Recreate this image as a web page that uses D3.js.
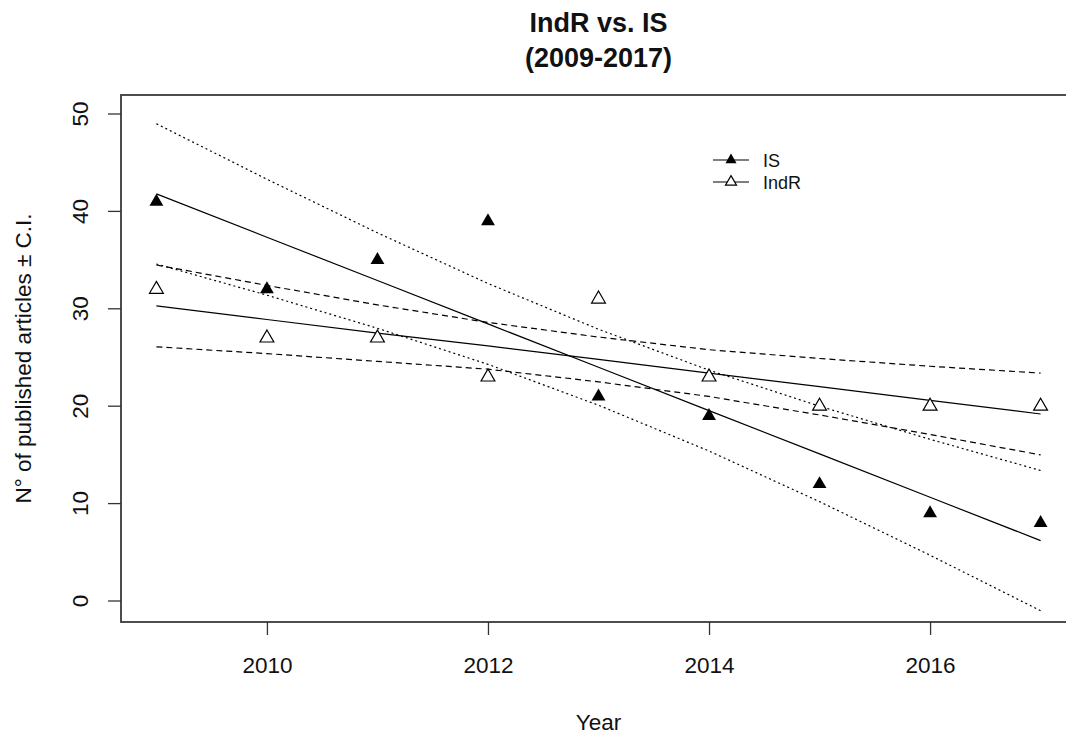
<!DOCTYPE html>
<html>
<head>
<meta charset="utf-8">
<script src="https://cdn.jsdelivr.net/npm/d3@7"></script>
<style>
body { margin: 0; background: #fff; }
text { font-family: "Liberation Sans", Arial, sans-serif; fill: #111; }
</style>
</head>
<body>
<div id="chart"></div>
<script>
// yearly counts
var years = [2009, 2010, 2011, 2012, 2013, 2014, 2015, 2016, 2017];
var isCounts = [41, 32, 35, 39, 21, 19, 12, 9, 8];
var indrCounts = [32, 27, 27, 23, 31, 23, 20, 20, 20];

// fitted lines and C.I. bands, one value per year
var isFit = [41.8, 37.35, 32.9, 28.45, 24.0, 19.55, 15.1, 10.65, 6.2];
var isCiUp = [49.0, 43.3, 37.8, 32.6, 27.9, 23.7, 20.0, 16.6, 13.4];
var isCiLow = [34.6, 31.4, 28.0, 24.3, 20.1, 15.4, 10.2, 4.7, -1.0];
var indrFit = [30.3, 28.9, 27.5, 26.2, 24.8, 23.4, 22.0, 20.6, 19.2];
var indrCiUp = [34.5, 32.4, 30.4, 28.6, 27.1, 25.8, 24.9, 24.1, 23.4];
var indrCiLow = [26.1, 25.4, 24.6, 23.8, 22.5, 21.0, 19.1, 17.1, 15.0];

var xTicks = [2010, 2012, 2014, 2016];
var yTicks = [0, 10, 20, 30, 40, 50];

var width = 1066, height = 738;
var boxL = 121, boxR = 1076, boxT = 95, boxB = 622;

var svg = d3.select('#chart').append('svg').attr('width', width).attr('height', height);

var x = d3.scaleLinear().domain([2009, 2017]).range([156.4, 1040.6]);
var y = d3.scaleLinear().domain([0, 50]).range([601, 114]);

// box
svg.append('rect')
    .attr('x', boxL).attr('y', boxT)
    .attr('width', boxR - boxL).attr('height', boxB - boxT)
    .attr('fill', 'none').attr('stroke', '#3a3a3a').attr('stroke-width', 1.8);

// x axis
var xAxis = svg.append('g').attr('transform', `translate(0,${boxB})`)
    .call(d3.axisBottom(x).tickValues(xTicks).tickSize(13).tickPadding(0).tickFormat(d3.format('d')));
xAxis.select('.domain').remove();
xAxis.selectAll('line').attr('stroke', '#333').attr('stroke-width', 1.3);
xAxis.selectAll('text').attr('y', 51).attr('dy', null)
    .style('font-size', '22.5px').attr('fill', '#111');

// y axis, labels rotated like base R
var yAxis = svg.append('g').attr('transform', `translate(${boxL},0)`)
    .call(d3.axisLeft(y).tickValues(yTicks).tickSize(13));
yAxis.select('.domain').remove();
yAxis.selectAll('line').attr('stroke', '#333').attr('stroke-width', 1.3);
yAxis.selectAll('text')
    .attr('x', null).attr('dy', null)
    .attr('text-anchor', 'middle')
    .attr('transform', d => `translate(-33,${y(d)})rotate(-90)`)
    .attr('y', 0)
    .style('font-size', '22.5px').attr('fill', '#111');
yAxis.selectAll('.tick').attr('transform', null);
yAxis.selectAll('.tick line').attr('transform', d => `translate(0,${y(d)})`);

// titles
svg.append('text').attr('x', 598.5).attr('y', 32).attr('text-anchor', 'middle')
    .style('font-size', '27px').style('font-weight', 'bold').text('IndR vs. IS');
svg.append('text').attr('x', 598.5).attr('y', 67).attr('text-anchor', 'middle')
    .style('font-size', '27px').style('font-weight', 'bold').text('(2009-2017)');
svg.append('text').attr('x', 598.5).attr('y', 730).attr('text-anchor', 'middle')
    .style('font-size', '22.5px').text('Year');
svg.append('text').attr('transform', `translate(31,${(boxT + boxB) / 2})rotate(-90)`)
    .attr('text-anchor', 'middle').style('font-size', '22.5px')
    .text('N° of published articles ± C.I.');

// regression and C.I. lines
var line = d3.line().x(d => x(d[0])).y(d => y(d[1]));
function drawLine(vals, dash) {
    svg.append('path')
        .datum(years.map((yr, i) => [yr, vals[i]]))
        .attr('d', line)
        .attr('fill', 'none').attr('stroke', '#000').attr('stroke-width', 1.2)
        .attr('stroke-dasharray', dash);
}
drawLine(isFit, null);
drawLine(isCiUp, '2,3');
drawLine(isCiLow, '2,3');
drawLine(indrFit, null);
drawLine(indrCiUp, '6,4');
drawLine(indrCiLow, '6,4');

// points
var tri = d3.symbol().type(d3.symbolTriangle).size(83);
svg.append('g').selectAll('path').data(years).enter().append('path')
    .attr('d', tri)
    .attr('transform', (d, i) => `translate(${x(d)},${y(isCounts[i])})`)
    .attr('fill', '#000');
svg.append('g').selectAll('path').data(years).enter().append('path')
    .attr('d', tri)
    .attr('transform', (d, i) => `translate(${x(d)},${y(indrCounts[i])})`)
    .attr('fill', '#fff').attr('stroke', '#000').attr('stroke-width', 1.2);

// legend
var legend = svg.append('g');
var legItems = [['IS', '#000'], ['IndR', '#fff']];
var smallTri = d3.symbol().type(d3.symbolTriangle).size(53);
legItems.forEach(function (item, i) {
    var ly = 160 + i * 22;
    legend.append('line').attr('x1', 713).attr('x2', 749).attr('y1', ly).attr('y2', ly)
        .attr('stroke', '#000').attr('stroke-width', 1.2);
    legend.append('path').attr('d', smallTri).attr('transform', `translate(731,${ly})`)
        .attr('fill', item[1]).attr('stroke', '#000').attr('stroke-width', i ? 1.2 : 0);
    legend.append('text').attr('x', 763).attr('y', ly + 7).style('font-size', '18px').text(item[0]);
});
</script>
</body>
</html>
